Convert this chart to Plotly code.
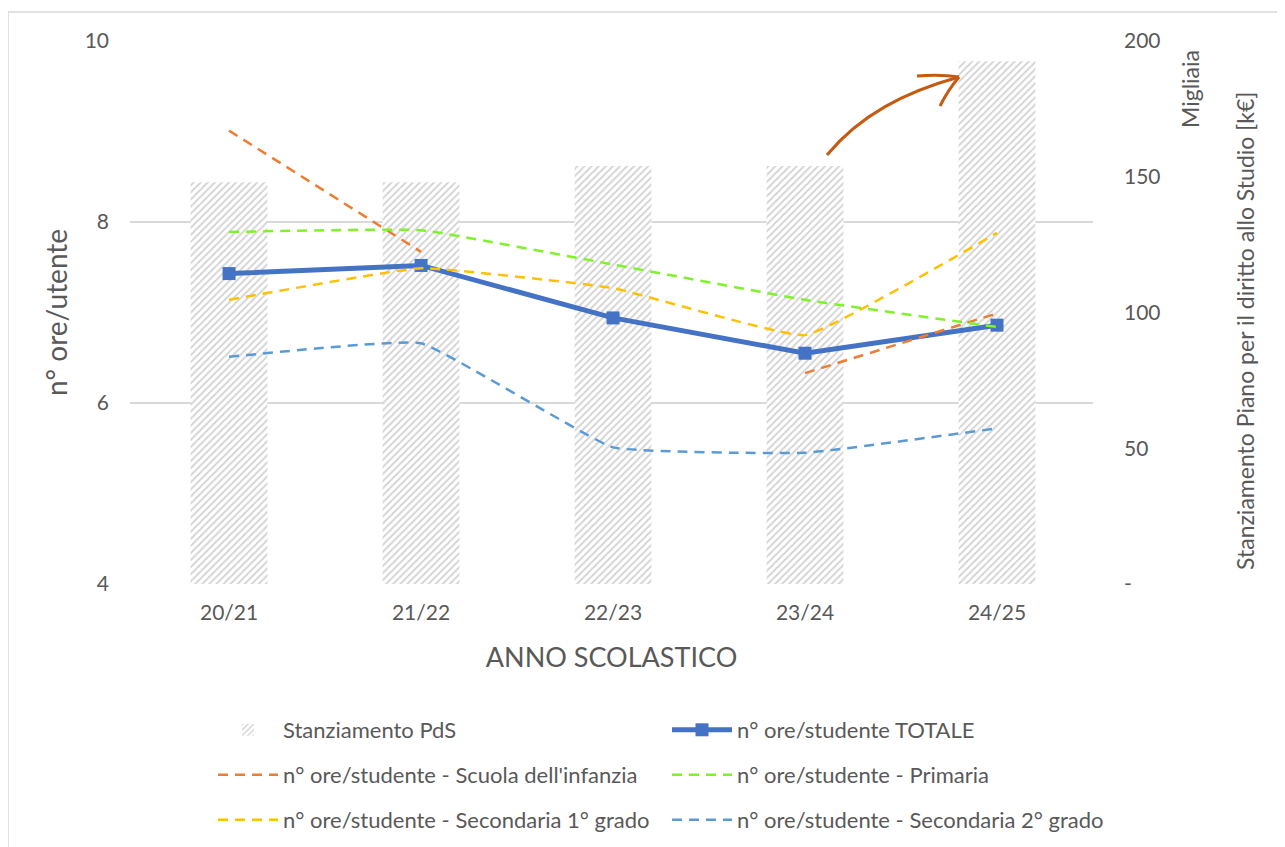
import plotly.graph_objects as go

anni = ["20/21", "21/22", "22/23", "23/24", "24/25"]
stanziamento = [148, 148, 154, 154, 192.5]
totale = [7.43, 7.52, 6.94, 6.55, 6.86]
infanzia = [9.01, 7.67, None, 6.33, 6.99]
primaria = [7.89, 7.91, 7.53, 7.14, 6.84]
secondaria1 = [7.14, 7.49, 7.27, 6.75, 7.88]
secondaria2 = [6.51, 6.66, 5.51, 5.45, 5.72]

FONT = "Lato"
GREY = "#595959"
W, H = 1285, 847
OFF = 8                      # page offset of the figure div
L, R, T, B = 130 - OFF, 1093 - OFF, 41 - OFF, 584 - OFF   # plot area (figure px)

fig = go.Figure()

# bars on the main (right-side) axis so the lines sit on top
fig.add_trace(go.Bar(
    x=anni, y=stanziamento, name="Stanziamento PdS", yaxis="y",
    width=0.4, legend="legend",
    marker=dict(color="white", line=dict(width=0),
                pattern=dict(shape="/", fgcolor="#A6A6A6", bgcolor="white",
                             size=5, solidity=0.35)),
))

fig.add_trace(go.Scatter(
    x=anni, y=totale, name="n° ore/studente TOTALE", mode="lines+markers",
    yaxis="y2", legend="legend",
    line=dict(color="#4472C4", width=5),
    marker=dict(symbol="square", size=13, color="#4472C4"),
))

dashed = [
    ("n° ore/studente - Scuola dell'infanzia", infanzia, "#ED7D31", "legend2"),
    ("n° ore/studente - Primaria", primaria, "#7FF22A", "legend2"),
    ("n° ore/studente - Secondaria 1° grado", secondaria1, "#FFC000", "legend3"),
    ("n° ore/studente - Secondaria 2° grado", secondaria2, "#5B9BD5", "legend3"),
]
for name, vals, col, leg in dashed:
    fig.add_trace(go.Scatter(
        x=anni, y=vals, name=name, mode="lines", yaxis="y2", legend=leg,
        line=dict(color=col, width=2.5, dash="10px,7px", shape="spline", smoothing=0.3),
        connectgaps=False,
    ))


def legend_row(ypage):
    return dict(
        orientation="h", xref="container", yref="container",
        x=205 / W, y=1 - (ypage - OFF) / H, xanchor="left", yanchor="middle",
        entrywidth=379, entrywidthmode="pixels", itemwidth=60,
        bgcolor="rgba(0,0,0,0)", font=dict(size=22, color=GREY, family=FONT),
    )


def px(x, y):
    # page pixel -> paper coords
    return (x - OFF - L) / (R - L), (B - (y - OFF)) / (B - T)


fig.update_layout(
    width=W, height=H,
    margin=dict(l=L, r=W - R, t=T, b=H - B, autoexpand=False),
    paper_bgcolor="white", plot_bgcolor="white",
    font=dict(family=FONT, size=21, color=GREY),
    showlegend=True,
    xaxis=dict(
        range=[-0.516, 4.5],
        showgrid=False, showline=False, ticks="", ticklabelstandoff=14,
        automargin=False, tickfont=dict(size=21, color=GREY),
        title=dict(text="ANNO SCOLASTICO", font=dict(size=27, color=GREY), standoff=25),
    ),
    yaxis=dict(
        side="right", range=[0, 200],
        tickvals=[0, 50, 100, 150, 200], ticktext=["-", "50", "100", "150", "200"],
        showgrid=False, zeroline=False, ticks="", ticklabelstandoff=30,
        automargin=False, tickfont=dict(size=21, color=GREY),
    ),
    yaxis2=dict(
        overlaying="y", side="left", range=[4, 10], tickvals=[4, 6, 8, 10],
        showgrid=True, gridcolor="#D9D9D9", gridwidth=1.5, zeroline=False,
        ticks="", ticklabelstandoff=20, automargin=False,
        tickfont=dict(size=21, color=GREY),
        title=dict(text="n° ore/utente", font=dict(size=28, color=GREY), standoff=8),
    ),
    legend=legend_row(730),
    legend2=legend_row(775),
    legend3=legend_row(820),
)

tx, ty = px(1245, 331)
fig.add_annotation(
    text="Stanziamento Piano per il diritto allo Studio [k€]",
    xref="paper", yref="paper", x=tx, y=ty, xanchor="center", yanchor="middle",
    textangle=-90, showarrow=False, font=dict(size=23, color=GREY),
)
mx, my = px(1190, 48)
fig.add_annotation(
    text="Migliaia", xref="paper", yref="paper", x=mx, y=my,
    xanchor="center", yanchor="top", textangle=-90, showarrow=False,
    font=dict(size=23, color=GREY),
)

# chart border (only top and left fall inside the picture)
b0, b1 = px(8, 1200), px(1500, 12)
fig.add_shape(type="rect", xref="paper", yref="paper",
              x0=b0[0], y0=b0[1], x1=b1[0], y1=b1[1],
              line=dict(color="#D9D9D9", width=1.5), layer="below")

# hand-drawn arrow
ARROW = "#C55A11"
p0, c1, c2, p1 = px(827, 155), px(860, 115), px(905, 92), px(959, 77)
fig.add_shape(type="path", xref="paper", yref="paper",
              path=f"M {p0[0]},{p0[1]} C {c1[0]},{c1[1]} {c2[0]},{c2[1]} {p1[0]},{p1[1]}",
              line=dict(color=ARROW, width=3))
h1, h2 = px(917, 76), px(940, 74)
fig.add_shape(type="path", xref="paper", yref="paper",
              path=f"M {h1[0]},{h1[1]} Q {h2[0]},{h2[1]} {p1[0]},{p1[1]}",
              line=dict(color=ARROW, width=3))
h3, h4 = px(940, 106), px(948, 90)
fig.add_shape(type="path", xref="paper", yref="paper",
              path=f"M {h3[0]},{h3[1]} Q {h4[0]},{h4[1]} {p1[0]},{p1[1]}",
              line=dict(color=ARROW, width=3))

fig.write_html("out.html")
